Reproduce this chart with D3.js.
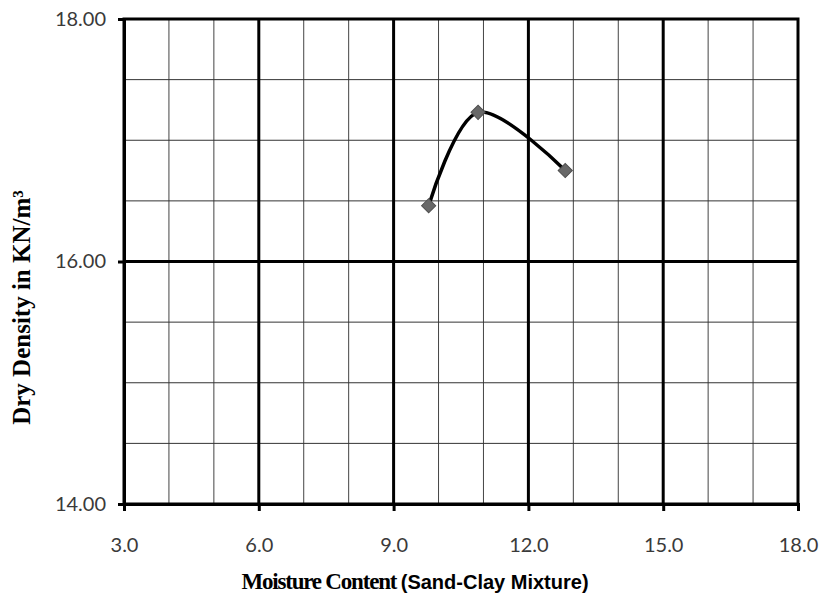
<!DOCTYPE html>
<html>
<head>
<meta charset="utf-8">
<script src="https://cdn.jsdelivr.net/npm/d3@7"></script>
<style>
  html, body { margin: 0; padding: 0; background: #fff; }
  svg { display: block; }
</style>
</head>
<body>
<script>
// Compaction test: moisture content vs dry density
const moisture = [9.78, 10.88, 12.82];
const dryDensity = [16.46, 17.23, 16.75];
const xTicks = [3, 6, 9, 12, 15, 18];
const yTicks = [14, 16, 18];
const xTitleMain = "Moisture Content";
const xTitleSub = "(Sand-Clay Mixture)";
const yTitle = "Dry Density in KN/m³";

const W = 822, H = 611;
const m = { left: 124, right: 798, top: 19, bottom: 504 };

const svg = d3.select("body").append("svg").attr("width", W).attr("height", H);

const x = d3.scaleLinear().domain([3, 18]).range([m.left, m.right]);
const y = d3.scaleLinear().domain([14, 18]).range([m.bottom, m.top]);

const grid = svg.append("g");

// minor vertical grid every 1.0
grid.selectAll("line.vminor")
  .data(d3.range(4, 18).filter(v => v % 3 !== 0))
  .join("line")
  .attr("x1", d => x(d)).attr("x2", d => x(d))
  .attr("y1", m.top).attr("y2", m.bottom)
  .attr("stroke", "#444").attr("stroke-width", 1);

// minor horizontal grid every 0.5
grid.selectAll("line.hminor")
  .data(d3.range(14.5, 18, 0.5).filter(v => v !== 16))
  .join("line")
  .attr("x1", m.left).attr("x2", m.right)
  .attr("y1", d => y(d)).attr("y2", d => y(d))
  .attr("stroke", "#333").attr("stroke-width", 1);

// major vertical grid
grid.selectAll("line.vmajor")
  .data(xTicks.slice(1, -1))
  .join("line")
  .attr("x1", d => x(d)).attr("x2", d => x(d))
  .attr("y1", m.top).attr("y2", m.bottom)
  .attr("stroke", "#000").attr("stroke-width", 3);

// major horizontal grid
grid.selectAll("line.hmajor")
  .data(yTicks.slice(1, -1))
  .join("line")
  .attr("x1", m.left).attr("x2", m.right)
  .attr("y1", d => y(d)).attr("y2", d => y(d))
  .attr("stroke", "#000").attr("stroke-width", 3);

// plot frame
svg.append("rect")
  .attr("x", m.left).attr("y", m.top)
  .attr("width", m.right - m.left).attr("height", m.bottom - m.top)
  .attr("fill", "none").attr("stroke", "#000").attr("stroke-width", 3);

// axes
const tickFont = "Lato, 'Open Sans', sans-serif";
const xAxis = svg.append("g")
  .attr("transform", `translate(0,${m.bottom})`)
  .call(d3.axisBottom(x).tickValues(xTicks).tickFormat(d3.format(".1f")).tickSize(7).tickPadding(27));
xAxis.select(".domain").attr("stroke-width", 3);
xAxis.selectAll(".tick line").attr("stroke-width", 3);
xAxis.selectAll("text")
  .attr("font-family", tickFont)
  .attr("font-size", 20).attr("fill", "#3a3a3a");

const yAxis = svg.append("g")
  .attr("transform", `translate(${m.left},0)`)
  .call(d3.axisLeft(y).tickValues(yTicks).tickFormat(d3.format(".2f")).tickSize(6).tickPadding(12));
yAxis.select(".domain").attr("stroke-width", 3);
yAxis.selectAll(".tick line").attr("stroke-width", 3);
yAxis.selectAll("text")
  .attr("font-family", tickFont)
  .attr("font-size", 20).attr("fill", "#3a3a3a");

// smoothed data line
const pts = moisture.map((v, i) => [v, dryDensity[i]]);
const line = d3.line()
  .x(d => x(d[0])).y(d => y(d[1]))
  .curve(d3.curveCardinal.tension(0));
svg.append("path")
  .attr("d", line(pts))
  .attr("fill", "none").attr("stroke", "#000").attr("stroke-width", 3.5)
  .attr("stroke-linecap", "round");

// diamond markers
svg.selectAll("path.marker")
  .data(pts)
  .join("path")
  .attr("class", "marker")
  .attr("transform", d => `translate(${x(d[0])},${y(d[1])}) rotate(45)`)
  .attr("d", d3.symbol().type(d3.symbolSquare).size(100))
  .attr("fill", "#686868").attr("stroke", "#505050").attr("stroke-width", 1);

// axis titles
const xt = svg.append("text")
  .attr("x", (m.left + m.right) / 2 - 46).attr("y", 589)
  .attr("text-anchor", "middle").attr("font-weight", "bold").attr("fill", "#000");
xt.append("tspan")
  .attr("font-family", "'Liberation Serif', 'Times New Roman', serif")
  .attr("font-size", 23).attr("letter-spacing", -1.2)
  .text(xTitleMain + " ");
xt.append("tspan")
  .attr("font-family", "'Liberation Sans Narrow', 'Liberation Sans', sans-serif")
  .attr("font-size", 20)
  .text(xTitleSub);

svg.append("text")
  .attr("transform", `translate(30,${(m.top + m.bottom) / 2 + 46}) rotate(-90)`)
  .attr("text-anchor", "middle")
  .attr("font-family", "'Liberation Serif', 'Times New Roman', serif")
  .attr("font-weight", "bold").attr("font-size", 25).attr("fill", "#000")
  .text(yTitle);
</script>
</body>
</html>
